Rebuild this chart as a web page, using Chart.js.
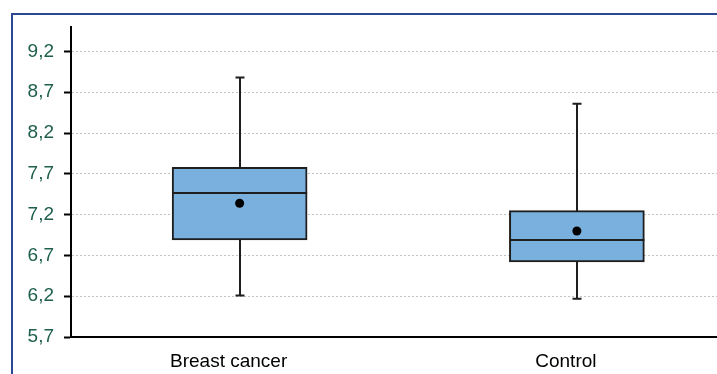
<!DOCTYPE html>
<html>
<head>
<meta charset="utf-8">
<script src="https://cdn.jsdelivr.net/npm/chart.js@4.4.0/dist/chart.umd.min.js"></script>
<style>
  html, body { margin: 0; padding: 0; background: #fff; overflow: hidden; width: 717px; height: 374px; }
  #frame { position: absolute; left: 11px; top: 13px; width: 800px; height: 400px;
           border-top: 2px solid #2c4893; border-left: 2px solid #2c4893; box-sizing: border-box; }
  #wrap { position: absolute; left: 0; top: 0; width: 750px; height: 374px; }
</style>
</head>
<body>
<div id="frame"></div>
<div id="wrap"><canvas id="c" width="750" height="374"></canvas></div>
<script>
const categories = ['Breast cancer', 'Control'];
const whiskerLow = [6.21, 6.17];
const q1 = [6.89, 6.62];
const median = [7.47, 6.89];
const q3 = [7.78, 7.25];
const whiskerHigh = [8.88, 8.56];
const mean = [7.34, 7.00];
const yTicks = [5.7, 6.2, 6.7, 7.2, 7.7, 8.2, 8.7, 9.2];
const yMin = 5.7, yMax = 9.5;

const boxPlugin = {
  id: 'boxParts',
  beforeDatasetsDraw(chart) {
    const ctx = chart.ctx, x = chart.scales.x, y = chart.scales.y;
    ctx.save();
    ctx.strokeStyle = '#1e1e1e';
    ctx.lineWidth = 2;
    categories.forEach((c, i) => {
      const cx = Math.round(x.getPixelForValue(i));
      const yl = y.getPixelForValue(whiskerLow[i]);
      const yh = y.getPixelForValue(whiskerHigh[i]);
      ctx.beginPath();
      ctx.moveTo(cx, yl); ctx.lineTo(cx, yh);
      ctx.moveTo(cx - 4.5, yl); ctx.lineTo(cx + 4.5, yl);
      ctx.moveTo(cx - 4.5, yh); ctx.lineTo(cx + 4.5, yh);
      ctx.stroke();
    });
    ctx.restore();
  },
  afterDatasetDraw(chart, args) {
    if (args.index !== 0) return;
    const ctx = chart.ctx, x = chart.scales.x, y = chart.scales.y;
    const meta = chart.getDatasetMeta(0);
    ctx.save();
    ctx.strokeStyle = '#1e1e1e';
    ctx.lineWidth = 2;
    categories.forEach((c, i) => {
      const bar = meta.data[i];
      const half = bar.width / 2;
      const cx = x.getPixelForValue(i);
      const ym = Math.round(y.getPixelForValue(median[i]));
      ctx.beginPath();
      ctx.moveTo(cx - half, ym); ctx.lineTo(cx + half, ym);
      ctx.stroke();
    });
    ctx.restore();
  }
};

new Chart(document.getElementById('c'), {
  type: 'bar',
  data: {
    labels: categories,
    datasets: [
      {
        type: 'bar',
        data: categories.map((c, i) => [q1[i], q3[i]]),
        backgroundColor: '#7ab0de',
        borderColor: '#1e1e1e',
        borderWidth: 2,
        borderSkipped: false,
        barThickness: 135,
        order: 2
      },
      {
        type: 'line',
        data: mean,
        showLine: false,
        pointRadius: 4.5,
        pointBackgroundColor: '#000',
        pointBorderColor: '#000',
        pointBorderWidth: 0,
        order: 1
      }
    ]
  },
  options: {
    responsive: false,
    animation: false,
    events: [],
    layout: { padding: { top: 27, right: 2, left: 0, bottom: 0 } },
    plugins: { legend: { display: false }, tooltip: { enabled: false } },
    scales: {
      x: {
        type: 'category',
        grid: { display: false, drawTicks: false },
        border: { display: true, color: '#000', width: 2 },
        ticks: { color: '#000', font: { family: 'Liberation Sans, Arial', size: 19 }, padding: 13, labelOffset: -11, maxRotation: 0 },
        afterFit(s) { s.height = 37; }
      },
      y: {
        min: yMin, max: yMax,
        afterBuildTicks(s) { s.ticks = yTicks.map(v => ({ value: v })); },
        afterFit(s) { s.width = 71; },
        grid: {
          color: '#c2c2c2', lineWidth: 1,
          drawTicks: true, tickLength: 7, tickColor: '#000', tickWidth: 2, tickBorderDash: []
        },
        border: { display: true, color: '#000', width: 2, dash: [2, 2] },
        ticks: {
          color: '#1d5e4c', padding: 10,
          font: { family: 'Liberation Sans, Arial', size: 19 },
          callback: v => Number(v).toFixed(1).replace('.', ',')
        }
      }
    }
  },
  plugins: [boxPlugin]
});
</script>
</body>
</html>
